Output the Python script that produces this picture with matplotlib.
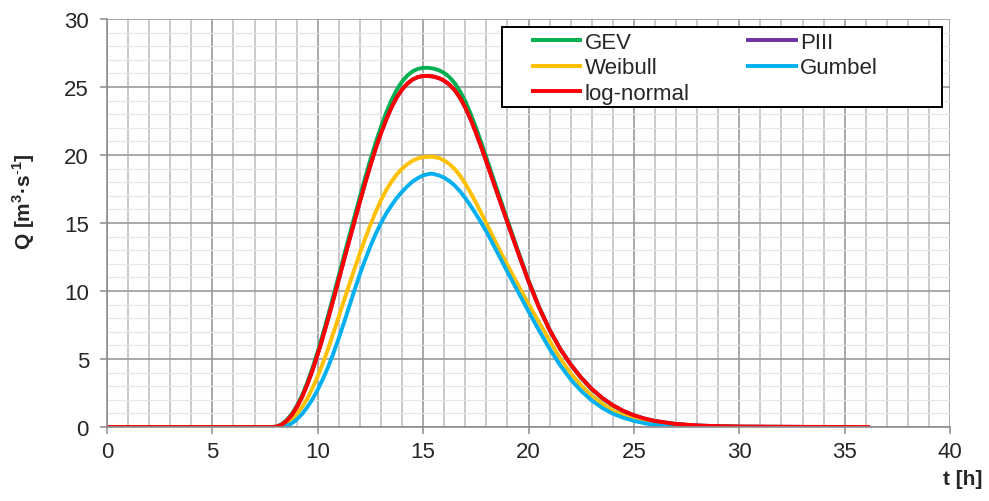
import matplotlib
matplotlib.use("Agg")
import matplotlib.pyplot as plt
from matplotlib.ticker import MultipleLocator
from matplotlib.patches import Rectangle

plt.rcParams['font.family'] = ['Liberation Sans', 'DejaVu Sans']
plt.rcParams['mathtext.fontset'] = 'custom'
plt.rcParams['mathtext.rm'] = 'Liberation Sans'
plt.rcParams['mathtext.bf'] = 'Liberation Sans:bold'

# ---- data (t in hours, Q in m3/s) ----
t_gev = [0, 7.8, 8.0, 8.25, 8.5, 8.75, 9.0, 9.25, 9.5, 9.75, 10.0, 10.25, 10.5, 10.75, 11.0, 11.25, 11.5,
         11.75, 12.0, 12.25, 12.5, 12.75, 13.0, 13.25, 13.5, 13.75, 14.0, 14.25, 14.5, 14.75, 15.0, 15.25,
         15.5, 15.75, 16.0, 16.25, 16.5, 16.75, 17.0, 17.25, 17.5, 17.75, 18.0, 18.5, 19.0, 19.5, 20.0,
         20.5, 21.0, 21.5, 22.0, 22.5, 23.0, 23.5, 24.0, 24.5, 25.0, 25.5, 26.0, 27.0, 28.0, 29.0, 30.0, 33.0]
q_gev = [0, 0, 0.03, 0.17, 0.47, 0.92, 1.54, 2.31, 3.26, 4.35, 5.56, 6.88, 8.27, 9.7, 11.16, 12.63, 14.08,
         15.52, 16.95, 18.34, 19.68, 20.93, 22.08, 23.12, 24.04, 24.8, 25.4, 25.84, 26.15, 26.33, 26.41, 26.41,
         26.35, 26.23, 26.03, 25.72, 25.28, 24.69, 23.95, 23.05, 22.04, 20.95, 19.81, 17.5, 15.22, 12.96, 10.78,
         8.83, 7.15, 5.75, 4.6, 3.6, 2.77, 2.1, 1.57, 1.15, 0.83, 0.6, 0.42, 0.2, 0.1, 0.05, 0.02, 0]

t_ln = [0, 7.9, 8.0, 8.25, 8.5, 8.75, 9.0, 9.25, 9.5, 9.75, 10.0, 10.25, 10.5, 10.75, 11.0, 11.25, 11.5,
        11.75, 12.0, 12.25, 12.5, 12.75, 13.0, 13.25, 13.5, 13.75, 14.0, 14.25, 14.5, 14.75, 15.0, 15.25,
        15.5, 15.75, 16.0, 16.25, 16.5, 16.75, 17.0, 17.25, 17.5, 17.75, 18.0, 18.5, 19.0, 19.5, 20.0,
        20.5, 21.0, 21.5, 22.0, 22.5, 23.0, 23.5, 24.0, 24.5, 25.0, 25.5, 26.0, 27.0, 28.0, 29.0, 30.0, 33.0, 36.2]
q_ln = [0, 0, 0.01, 0.135, 0.41, 0.84, 1.44, 2.19, 3.11, 4.17, 5.36, 6.65, 8.01, 9.42, 10.86, 12.31, 13.74,
        15.16, 16.57, 17.94, 19.25, 20.48, 21.6, 22.61, 23.5, 24.24, 24.82, 25.25, 25.55, 25.73, 25.81, 25.81,
        25.76, 25.65, 25.46, 25.17, 24.76, 24.2, 23.49, 22.63, 21.66, 20.61, 19.51, 17.26, 15.04, 12.84, 10.71,
        8.79, 7.14, 5.75, 4.6, 3.62, 2.8, 2.13, 1.6, 1.18, 0.86, 0.62, 0.44, 0.22, 0.11, 0.06, 0.03, 0.01, 0]

# PIII coincides with log-normal (hidden beneath it in the chart)
t_p3 = t_ln[:-1]
q_p3 = q_ln[:-1]

t_wei = [0, 8.0, 8.25, 8.5, 8.75, 9.0, 9.25, 9.5, 9.75, 10.0, 10.25, 10.5, 10.75, 11.0, 11.25, 11.5,
         11.75, 12.0, 12.25, 12.5, 12.75, 13.0, 13.25, 13.5, 13.75, 14.0, 14.25, 14.5, 14.75, 15.0, 15.35,
         15.5, 15.75, 16.0, 16.25, 16.5, 16.75, 17.0, 17.25, 17.5, 17.75, 18.0, 18.5, 19.0, 19.5, 20.0,
         20.5, 21.0, 21.5, 22.0, 22.5, 23.0, 23.5, 24.0, 24.5, 25.0, 25.5, 26.0, 26.5, 27.3]
q_wei = [0, 0, 0.1, 0.25, 0.55, 0.93, 1.46, 2.08, 2.86, 3.73, 4.73, 5.8, 6.95, 8.13, 9.33, 10.5,
         11.66, 12.78, 13.86, 14.88, 15.82, 16.68, 17.43, 18.05, 18.57, 19.0, 19.32, 19.58, 19.75, 19.84, 19.88,
         19.86, 19.78, 19.6, 19.33, 18.96, 18.48, 17.9, 17.22, 16.5, 15.75, 14.98, 13.4, 11.9, 10.45, 9.05,
         7.7, 6.35, 5.05, 3.95, 3.05, 2.3, 1.7, 1.2, 0.85, 0.57, 0.38, 0.24, 0.12, 0]

t_gum = [0, 8.3, 8.5, 8.75, 9.0, 9.25, 9.5, 9.75, 10.0, 10.25, 10.5, 10.75, 11.0, 11.25, 11.5,
         11.75, 12.0, 12.25, 12.5, 12.75, 13.0, 13.25, 13.5, 13.75, 14.0, 14.25, 14.5, 14.75, 15.0, 15.25, 15.4,
         15.5, 15.75, 16.0, 16.25, 16.5, 16.75, 17.0, 17.25, 17.5, 17.75, 18.0, 18.5, 19.0, 19.5, 20.0,
         20.5, 21.0, 21.5, 22.0, 22.5, 23.0, 23.5, 24.0, 24.5, 25.0, 25.5, 26.0, 26.5, 27.3]
q_gum = [0, 0, 0.06, 0.25, 0.55, 0.95, 1.45, 2.05, 2.75, 3.55, 4.45, 5.45, 6.55, 7.7, 8.9,
         10.1, 11.25, 12.3, 13.3, 14.2, 15.0, 15.7, 16.3, 16.85, 17.3, 17.7, 18.05, 18.3, 18.5, 18.6, 18.63,
         18.6, 18.5, 18.33, 18.08, 17.75, 17.33, 16.83, 16.27, 15.67, 15.03, 14.37, 12.9, 11.4, 9.95, 8.5,
         7.1, 5.75, 4.55, 3.5, 2.65, 1.95, 1.4, 0.98, 0.68, 0.45, 0.28, 0.16, 0.08, 0]

names = ["GEV", "PIII", "Weibull", "Gumbel", "log-normal"]
colors = ["#00B050", "#7030A0", "#FFC000", "#00B0F0", "#FF0000"]
ts = [t_gev, t_p3, t_wei, t_gum, t_ln]
qs = [q_gev, q_p3, q_wei, q_gum, q_ln]

fig = plt.figure(figsize=(9.89, 5.02), dpi=100)
ax = fig.add_axes([0.1082, 0.1474, 0.8524, 0.8128])

handles = {}
for name, t, q, c in zip(names, ts, qs, colors):
    ln, = ax.plot(t, q, color=c, lw=2.8, label=name, solid_capstyle='butt', solid_joinstyle='round')
    handles[name] = ln

ax.set_xlim(0, 40)
ax.set_ylim(0, 30)
ax.xaxis.set_major_locator(MultipleLocator(5))
ax.xaxis.set_minor_locator(MultipleLocator(1))
ax.yaxis.set_major_locator(MultipleLocator(5))
ax.yaxis.set_minor_locator(MultipleLocator(1))

ax.grid(which='major', axis='both', color='#9a9a9a', lw=1.2)
ax.grid(which='minor', axis='x', color='#bababa', lw=1.1)
ax.grid(which='minor', axis='y', color='#e6e6e6', lw=0.9)
ax.set_axisbelow(True)

for s in ['top', 'right']:
    ax.spines[s].set_visible(False)
for s in ['left', 'bottom']:
    ax.spines[s].set_color('#8c8c8c')
    ax.spines[s].set_linewidth(1.2)

ax.tick_params(which='major', direction='out', length=5, width=1.1, color='#8c8c8c',
               labelsize=16, labelcolor='#262626', pad=5)
ax.tick_params(which='minor', length=0)
ax.tick_params(axis='y', pad=8)

ax.set_ylabel(r'Q [m$^{\mathbf{3}}$·s$^{\mathbf{\text{-}1}}$]', fontsize=15, fontweight='bold',
              color='#262626')
ax.yaxis.set_label_coords(-0.083, 0.554)
fig.text(0.993, 0.025, 't [h]', fontsize=15, fontweight='bold', color='#262626',
         ha='right', va='bottom')

# legend frame drawn as a rectangle in axes coordinates
frame = Rectangle((0.4686, 0.784), 0.5219, 0.196, transform=ax.transAxes, fill=True,
                  facecolor='white', edgecolor='black', lw=1.4, zorder=5)
ax.add_patch(frame)
order = ["GEV", "Weibull", "log-normal", "PIII", "Gumbel"]
leg = ax.legend([handles[n] for n in order], order, loc='upper left',
                bbox_to_anchor=(0.503, 0.968), ncol=2, fontsize=16, frameon=False,
                handlelength=2.3, handletextpad=0.12, borderpad=0, labelspacing=0.2,
                columnspacing=2.55, borderaxespad=0)
leg.set_zorder(6)
for txt in leg.get_texts():
    txt.set_color('#262626')

fig.savefig('out.png', dpi=100)
